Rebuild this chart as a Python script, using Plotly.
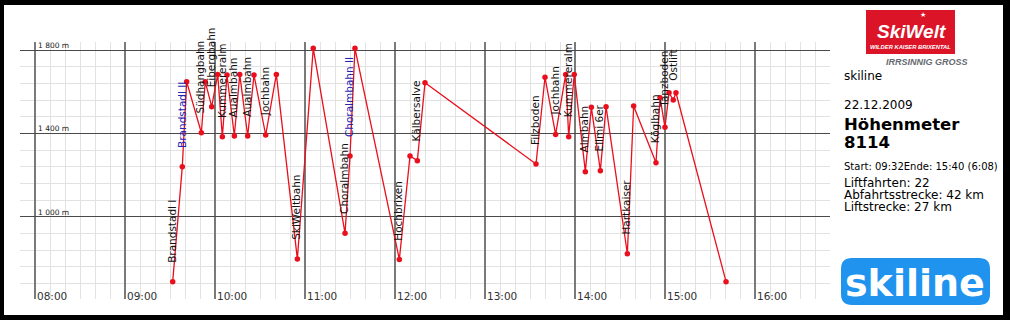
import plotly.graph_objects as go

# ---------------- data ----------------
DAY = "2009-12-22"
times = ["09:31:48", "09:38:12", "09:41:06", "09:50:54", "09:53:30", "09:57:48",
         "10:01:48", "10:04:54", "10:08:00", "10:12:54", "10:16:30", "10:21:48",
         "10:26:00", "10:33:48", "10:40:54", "10:54:54", "11:05:30", "11:26:42",
         "11:30:00", "11:33:18", "12:02:54", "12:10:00", "12:14:54", "12:20:00",
         "13:34:00", "13:40:00", "13:47:06", "13:53:48", "13:55:48", "13:59:30",
         "14:06:54", "14:10:54", "14:16:54", "14:20:42", "14:34:54", "14:39:06",
         "14:54:00", "14:56:42", "15:00:00", "15:02:42", "15:05:30", "15:07:18",
         "15:40:42"]
elevation = [688, 1240, 1648, 1403, 1648, 1528,
             1683, 1384, 1680, 1387, 1683, 1387,
             1680, 1392, 1683, 797, 1808, 920,
             1291, 1808, 795, 1291, 1269, 1643,
             1253, 1669, 1395, 1683, 1384, 1683,
             1216, 1525, 1221, 1528, 822, 1531,
             1259, 1571, 1429, 1595, 1560, 1595,
             688]

lift_names = ["Brandstadl I", "Brandstadl II", "Südhangbahn", "Eibergbahn", "Kummereralm",
              "Aualmbahn", "Aualmbahn", "Jochbahn", "SkiWeltbahn", "Choralmbahn",
              "Choralmbahn II", "Hochbrixen", "Kälbersalve", "Filzboden", "Jochbahn",
              "Kummereralm", "Almbahn", "Ellmi 6er", "Hartkaiser", "Köglbahn",
              "Tanzboden", "Ostlift"]
lift_start_index = [0, 1, 3, 5, 7, 9, 11, 13, 15, 17, 18, 20, 22, 24, 26, 28, 30, 32,
                    34, 36, 38, 40]
lift_connected = [False, True, False, False, False, False, False, False, False, False,
                  True, False, False, False, False, False, False, False, False, False,
                  False, False]

hour_labels = ["08:00", "09:00", "10:00", "11:00", "12:00", "13:00", "14:00", "15:00", "16:00"]
y_tick_values = [1000, 1400, 1800]
y_tick_labels = ["1 000 m", "1 400 m", "1 800 m"]

info_title = "skiline"
info_date = "22.12.2009"
info_hm_label = "Höhenmeter"
info_hm_value = "8114"
info_startend = "Start: 09:32Ende: 15:40 (6:08)"
info_lines = ["Liftfahrten: 22", "Abfahrtsstrecke: 42 km", "Liftstrecke: 27 km"]

# ---------------- layout geometry (pixels) ----------------
W, H = 1010, 320
L, R, T, B = 20, 830, 42, 299
FONT = "DejaVu Sans"
RED = "#ea0f1c"


def px(x):
    return (x - L) / (R - L)


def py(y):
    return (B - y) / (B - T)


xs = [f"{DAY} {t}" for t in times]

fig = go.Figure()
fig.add_trace(go.Scatter(
    x=xs, y=elevation, mode="lines+markers",
    line=dict(color=RED, width=1.3),
    marker=dict(color=RED, size=5.5),
    hoverinfo="skip", showlegend=False, cliponaxis=False,
))

annotations = []
# lift labels
for name, idx, conn in zip(lift_names, lift_start_index, lift_connected):
    annotations.append(dict(
        x=xs[idx], y=elevation[idx], xref="x", yref="y",
        text=name, textangle=-90, showarrow=False,
        xanchor="center", yanchor="bottom", xshift=-1, yshift=17,
        font=dict(family=FONT, size=10.5, color="#2323b4" if conn else "#111111"),
    ))

# y tick labels
for v, lab in zip(y_tick_values, y_tick_labels):
    annotations.append(dict(
        x=f"{DAY} 08:00", y=v, xref="x", yref="y", text=lab, showarrow=False,
        xanchor="left", yanchor="bottom", xshift=1, yshift=-2,
        font=dict(family=FONT, size=7.5, color="#222222"),
    ))

# x hour labels
for lab in hour_labels:
    annotations.append(dict(
        x=f"{DAY} {lab}", y=0, xref="x", yref="paper", text=lab, showarrow=False,
        xanchor="left", yanchor="middle", xshift=0, yshift=3,
        font=dict(family=FONT, size=10.5, color="#333333"),
    ))


def info(text, y, size, bold=False, color="#000000"):
    annotations.append(dict(
        x=px(843), y=py(y), xref="paper", yref="paper",
        text=f"<b>{text}</b>" if bold else text, showarrow=False,
        xanchor="left", yanchor="middle", borderpad=0,
        font=dict(family=FONT, size=size, color=color),
    ))


info(info_title, 76, 12)
info(info_date, 105, 12)
info(info_hm_label, 125, 16.5, bold=True)
info(info_hm_value, 142, 16.5, bold=True)
info(info_startend, 166, 10)
for i, line in enumerate(info_lines):
    info(line, 183 + 12 * i, 12)

# SkiWelt logo texts
annotations.append(dict(
    x=px(911), y=py(32), xref="paper", yref="paper",
    text="<b><i>SkiWelt</i></b>", showarrow=False, xanchor="center", yanchor="middle",
    borderpad=0,
    font=dict(family="Liberation Sans", size=19, color="white")))
annotations.append(dict(
    x=px(923), y=py(15), xref="paper", yref="paper",
    text="★", showarrow=False, xanchor="center", yanchor="middle", borderpad=0,
    font=dict(family=FONT, size=7, color="white")))
annotations.append(dict(
    x=px(910), y=py(47), xref="paper", yref="paper",
    text="<b><i>WILDER KAISER BRIXENTAL</i></b>", showarrow=False,
    xanchor="center", yanchor="middle", borderpad=0,
    font=dict(family="Liberation Sans", size=5.8, color="white")))
annotations.append(dict(
    x=px(927), y=py(62), xref="paper", yref="paper",
    text="<b><i>IRRSINNIG GROSS</i></b>", showarrow=False,
    xanchor="center", yanchor="middle",
    font=dict(family="Liberation Sans", size=9, color="#666a70")))
# skiline logo text
annotations.append(dict(
    x=px(915), y=py(283), xref="paper", yref="paper",
    text="<b>skiline</b>", showarrow=False, xanchor="center", yanchor="middle",
    font=dict(family=FONT, size=38, color="white")))

shapes = []
# white card inside black frame
shapes.append(dict(type="rect", xref="paper", yref="paper",
                   x0=px(4), x1=px(1003), y0=py(315), y1=py(5),
                   fillcolor="white", line=dict(width=0), layer="below"))
# SkiWelt red box
shapes.append(dict(type="rect", xref="paper", yref="paper",
                   x0=px(866), x1=px(955), y0=py(54), y1=py(10),
                   fillcolor="#dc1428", line=dict(width=0), layer="above"))
# skiline rounded blue box
x0, x1, y0, y1, r = 841, 990, 258, 305, 11
path = (f"M {px(x0 + r)},{py(y0)} L {px(x1 - r)},{py(y0)} "
        f"Q {px(x1)},{py(y0)} {px(x1)},{py(y0 + r)} L {px(x1)},{py(y1 - r)} "
        f"Q {px(x1)},{py(y1)} {px(x1 - r)},{py(y1)} L {px(x0 + r)},{py(y1)} "
        f"Q {px(x0)},{py(y1)} {px(x0)},{py(y1 - r)} L {px(x0)},{py(y0 + r)} "
        f"Q {px(x0)},{py(y0)} {px(x0 + r)},{py(y0)} Z")
shapes.append(dict(type="path", xref="paper", yref="paper", path=path,
                   fillcolor="#1f93ee", line=dict(width=0), layer="above"))

y_top = 1800 + (50 - T) * 4.8
y_bot = 1800 - (B - 50) * 4.8

fig.update_layout(
    width=W, height=H,
    margin=dict(l=L, r=W - R, t=T, b=H - B, pad=0),
    paper_bgcolor="black", plot_bgcolor="white",
    showlegend=False,
    xaxis=dict(
        type="date",
        range=[f"{DAY} 07:50", f"{DAY} 16:50"],
        showticklabels=False, ticks="",
        tick0=f"{DAY} 08:00", dtick=3600000,
        showgrid=True, gridcolor="#7a7a7a", gridwidth=2,
        minor=dict(tick0=f"{DAY} 08:00", dtick=600000, showgrid=True,
                   gridcolor="#e2e2e2", gridwidth=1, ticks=""),
        zeroline=False, showline=False, fixedrange=True,
    ),
    yaxis=dict(
        range=[y_bot, y_top],
        showticklabels=False, ticks="",
        tick0=1000, dtick=400,
        showgrid=True, gridcolor="#4a4a4a", gridwidth=1.3,
        minor=dict(tick0=680, dtick=80, showgrid=True,
                   gridcolor="#e2e2e2", gridwidth=1, ticks=""),
        zeroline=False, showline=False, fixedrange=True,
    ),
    annotations=annotations,
    shapes=shapes,
)

fig.write_html("out.html")
